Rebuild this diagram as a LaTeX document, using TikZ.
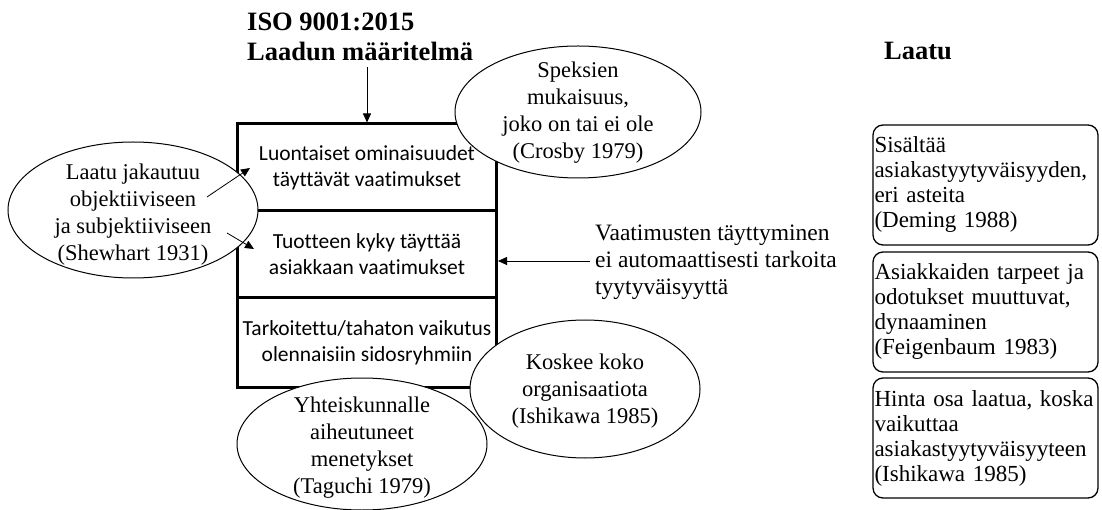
\documentclass[tikz,border=0pt]{standalone}
\usepackage{fontspec}
\setmainfont{Liberation Serif}
\newfontfamily\boxfont[Ligatures=NoCommon]{Carlito}
\usetikzlibrary{shapes.geometric,arrows.meta}

\begin{document}
\begin{tikzpicture}[x=1pt,y=-1pt,
  headline/.style={font=\bfseries\fontsize{26.5}{30}\selectfont, inner sep=0pt},
  stage/.style={draw, line width=3pt, minimum width=259pt, align=center,
    inner sep=0pt, font=\boxfont\fontsize{21.5}{26}\selectfont},
  bubble/.style={draw, ellipse, fill=white, line width=1pt, inner sep=0pt},
  bubbletext/.style={align=center, inner sep=0pt, font=\fontsize{22.5}{27}\selectfont},
  note/.style={draw, rounded corners=10pt, line width=1.3pt,
    minimum width=225pt, minimum height=120pt, text width=222pt,
    align=left, inner xsep=1.5pt, inner ysep=0pt,
    font=\fontsize{23}{25}\selectfont},
  arr/.style={-{Triangle[length=9pt,width=8pt]}, line width=0.8pt}]

\useasboundingbox (0,0) rectangle (1102,510);

% headings
\node[headline, align=left, anchor=north west] (title) at (247,12.5)
  {ISO 9001:2015\\Laadun määritelmä};
\node[headline, anchor=base west] (laatu) at (884,60) {Laatu};

% the three stacked statements of the definition
\node[stage, minimum height=87pt] (b1) at (367,167.5)
  {Luontaiset ominaisuudet\\täyttävät vaatimukset};
\node[stage, minimum height=87pt] (b2) at (367,254.5)
  {Tuotteen kyky täyttää\\asiakkaan vaatimukset};
\node[stage, minimum height=89pt] (b3) at (367,342.5)
  {Tarkoitettu/tahaton vaikutus\\olennaisiin sidosryhmiin};

% views of the quality gurus
\node[bubble, minimum width=246pt, minimum height=132pt] (speks) at (578,112) {};
\node[bubbletext] (speksText) at (578,113)
  {Speksien\\mukaisuus,\\joko on tai ei ole\\(Crosby 1979)};

\node[bubble, minimum width=250pt, minimum height=136pt] (shew) at (133,210) {};
\node[bubbletext] (shewText) at (133,215)
  {Laatu jakautuu\\objektiiviseen\\ja subjektiiviseen\\(Shewhart 1931)};

\node[bubble, minimum width=250pt, minimum height=132pt] (tagu) at (362,444) {};
\node[bubbletext] (taguText) at (362,448)
  {Yhteiskunnalle\\aiheutuneet\\menetykset\\(Taguchi 1979)};

\node[bubble, minimum width=230pt, minimum height=138pt] (ishi) at (585,389) {};
\node[bubbletext] (ishiText) at (585,391)
  {Koskee koko\\organisaatiota\\(Ishikawa 1985)};

% side remark
\node[align=left, anchor=west, inner sep=0pt, font=\fontsize{23.5}{27}\selectfont]
  (remark) at (595,262)
  {Vaatimusten täyttyminen\\ei automaattisesti tarkoita\\tyytyväisyyttä};

% notes on quality
\node[note] (n1) at (985.5,185)
  {Sisältää\\asiakastyytyväisyyden,\\eri asteita\\(Deming 1988)};
\node[note] (n2) at (985.5,312)
  {Asiakkaiden tarpeet ja\\odotukset muuttuvat,\\dynaaminen\\(Feigenbaum 1983)};
\node[note] (n3) at (985.5,438)
  {Hinta osa laatua, koska\\vaikuttaa\\asiakastyytyväisyyteen\\(Ishikawa 1985)};

% connectors
\coordinate (titleFoot) at (367,67);
\draw[arr] (titleFoot) -- (titleFoot |- b1.north);

\coordinate (remarkTail) at (590,261);
\draw[arr] (remarkTail) -- (remarkTail -| b2.east);

\coordinate (shewA) at (207,197);
\coordinate (shewAend) at (250,168);
\draw[arr] (shewA) -- (shewAend);
\coordinate (shewB) at (227,233);
\coordinate (shewBend) at (254,249);
\draw[arr] (shewB) -- (shewBend);
\end{tikzpicture}
\end{document}
